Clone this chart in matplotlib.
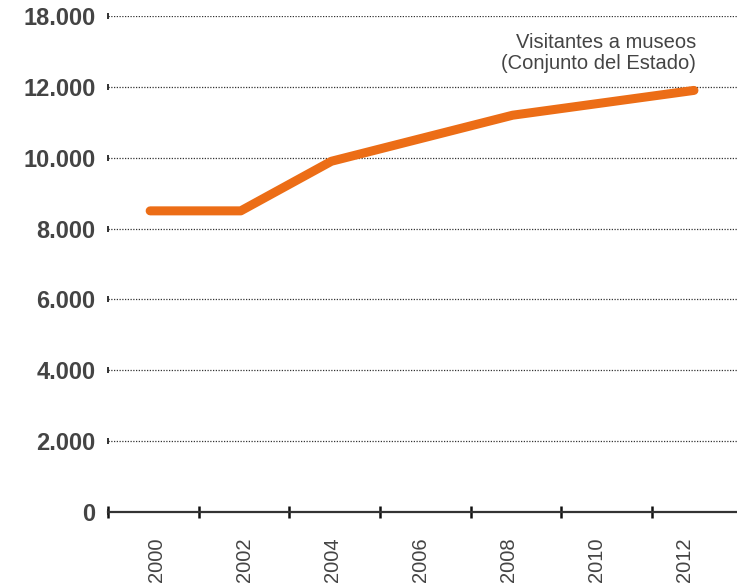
import matplotlib
matplotlib.use("Agg")
import matplotlib.pyplot as plt
import numpy as np

# data
years = [2000, 2002, 2004, 2008, 2012]
visitors = [8500, 8500, 9900, 11200, 11900]

ytick_vals = [0, 2000, 4000, 6000, 8000, 10000, 12000, 14000]
ytick_labels = ["0", "2.000", "4.000", "6.000", "8.000", "10.000", "12.000", "18.000"]
xlabel_years = [2000, 2002, 2004, 2006, 2008, 2010, 2012]
series_label = "Visitantes a museos\n(Conjunto del Estado)"

plt.rcParams['font.family'] = ['Liberation Sans', 'DejaVu Sans']
txt = "#444444"

fig = plt.figure(figsize=(7.37, 5.84), dpi=100)
ax = fig.add_axes([108/737, 72/584, 1 - 108/737, 496/584])

xmin, xmax = 1999.07, 2012.95
ax.set_xlim(xmin, xmax)
ax.set_ylim(0, 14000)

ax.plot(years, visitors, color="#EC6D16", lw=6.5, solid_capstyle="round",
        solid_joinstyle="round", zorder=3)

# dotted grid with a small end mark at the left
for v in ytick_vals:
    if v > 0:
        ax.axhline(v, color="#333333", lw=0.9, ls=(0, (1, 1.2)), zorder=1)
    ax.plot([xmin], [v], marker="|", ms=4.5, mew=1.3, color="#222222",
            clip_on=False, zorder=4)

ax.set_yticks(ytick_vals)
ax.set_yticklabels(ytick_labels, fontsize=17, fontweight="bold", color=txt)
ax.tick_params(axis="y", length=0, pad=9)

# x: tick marks between years, labels near the years (slightly packed, as in the original)
ax.set_xticks(np.arange(xmin, xmax, 2))
ax.set_xticklabels([])
ax.tick_params(axis="x", which="major", direction="inout", length=9,
               width=1.8, color="#111111")
label_pos = [2000.13 + (y - 2000) * 0.972 for y in xlabel_years]
ax.set_xticks(label_pos, minor=True)
ax.set_xticklabels([str(y) for y in xlabel_years], minor=True, rotation=90,
                   fontsize=14.5, color=txt)
ax.tick_params(axis="x", which="minor", length=0, pad=18)

for s in ["top", "right", "left"]:
    ax.spines[s].set_visible(False)
ax.spines["bottom"].set_color("#333333")
ax.spines["bottom"].set_linewidth(1.6)
ax.spines["bottom"].set_zorder(5)

ax.text(2012.05, 12950, series_label, ha="right", va="center",
        fontsize=14.5, color=txt, linespacing=1.15)

fig.savefig("out.png", dpi=100)
